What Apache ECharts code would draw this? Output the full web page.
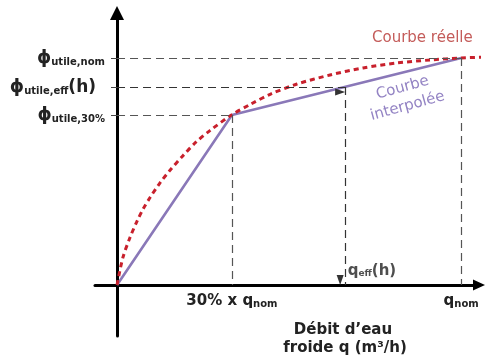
<!DOCTYPE html>
<html>
<head>
<meta charset="utf-8">
<script src="https://cdn.jsdelivr.net/npm/echarts@6/dist/echarts.min.js"></script>
<style>
html,body{margin:0;padding:0;background:#fff;}
#c{width:487px;height:359px;}
</style>
</head>
<body>
<div id="c"></div>
<script>
// ---- Data (flow q in % of q_nom, power φ in % of φ_nom) ----
const realQ   = [0, 1.7, 3.8, 5.8, 7.6, 9.6, 12.5, 15.4, 18.9, 23.0, 27.0, 33.4, 38.7, 44.5, 52.3, 61.9, 71.5, 81.4, 91.0, 100, 107.6];
const realPhi = [0, 12, 21, 28, 33.5, 38.5, 45, 50.5, 56.5, 63, 68, 75, 79.5, 84, 88.5, 92.5, 95.6, 97.8, 99.1, 100, 100.4];
const interpQ   = [0, 33.4, 100];
const interpPhi = [0, 74.9, 100];
const qTicks = [33.4, 100];
const qTickLabels = ['{m|30% x q}{s|nom}', '{m|q}{s|nom}'];
const phiTicks = [74.9, 87.2, 100];
const phiTickLabels = ['{p|ϕ}{s|utile,30%}', '{p|ϕ}{s|utile,eff}{h|(h)}', '{p|ϕ}{s|utile,nom}'];
const qEff = 66.3;
const phiEff = 87.2;
const qEffLabel = '{m|q}{s|eff}{m|(h)}';
const seriesNames = ['Courbe réelle', 'Courbe interpolée'];
const axisTitle = ['Débit d’eau', 'froide q (m³/h)'];

const FONT = 'DejaVu Sans';
const chart = echarts.init(document.getElementById('c'), null, {renderer: 'canvas'});

const dashStyle = {color: '#555', width: 1.2, type: [8, 5]};

function guidePairs(qArr, phiArr) {
  const out = [];
  for (let i = 0; i < qArr.length; i++) {
    out.push([{coord: [0, phiArr[i]]}, {coord: [qArr[i], phiArr[i]]}]);
    out.push([{coord: [qArr[i], phiArr[i]]}, {coord: [qArr[i], 0]}]);
  }
  return out;
}

chart.setOption({
  animation: false,
  grid: {left: 95, right: 8, top: 13, bottom: 23, containLabel: false, outerBoundsMode: 'none'},
  xAxis: {
    type: 'value', min: -6.4, max: 105.2, position: 'bottom', offset: -51,
    splitLine: {show: false},
    axisLine: {onZero: false, lineStyle: {color: '#000', width: 3}, symbol: ['none', 'triangle'], symbolSize: [11, 12]},
    axisTick: {show: false},
    axisLabel: {
      customValues: qTicks, margin: 9,
      formatter: v => qTickLabels[qTicks.indexOf(v)] || '',
      rich: {
        m: {fontFamily: FONT, fontWeight: 'bold', fontSize: 15, color: '#222', verticalAlign: 'bottom'},
        s: {fontFamily: FONT, fontWeight: 'bold', fontSize: 10, color: '#222', verticalAlign: 'bottom'}
      }
    }
  },
  yAxis: {
    type: 'value', min: -22.5, max: 119.8, position: 'left', offset: -22,
    splitLine: {show: false},
    axisLine: {onZero: false, lineStyle: {color: '#000', width: 3}, symbol: ['none', 'triangle'], symbolSize: [14, 14]},
    axisTick: {show: true, customValues: phiTicks, length: 6, lineStyle: {color: '#444', width: 1}},
    axisLabel: {
      customValues: phiTicks, margin: 12,
      formatter: v => phiTickLabels[phiTicks.indexOf(v)] || '',
      rich: {
        p: {fontFamily: FONT, fontWeight: 'bold', fontSize: 18, color: '#222', verticalAlign: 'bottom'},
        s: {fontFamily: FONT, fontWeight: 'bold', fontSize: 10, color: '#222', verticalAlign: 'bottom'},
        h: {fontFamily: FONT, fontWeight: 'bold', fontSize: 17, color: '#222', verticalAlign: 'bottom', padding: [0, 9, 0, 0]}
      }
    }
  },
  series: [
    {
      type: 'line', name: 'guides', data: [], silent: true,
      markLine: {
        silent: true, animation: false, symbol: 'none',
        label: {show: false},
        lineStyle: dashStyle,
        data: guidePairs([interpQ[1], interpQ[2]], [interpPhi[1], interpPhi[2]])
      }
    },
    {
      type: 'line', name: 'effGuides', data: [], silent: true,
      markLine: {
        silent: true, animation: false, symbol: ['none', 'triangle'], symbolSize: [7, 10], symbolOffset: [0, 5],
        label: {show: false},
        lineStyle: {color: '#333', width: 1.2, type: [8, 5]},
        data: [
          [{coord: [0, phiEff]}, {coord: [qEff, phiEff]}],
          [{coord: [qEff, phiEff]}, {coord: [qEff, 0]}]
        ]
      }
    },
    {
      type: 'line', name: seriesNames[1], data: interpQ.map((q, i) => [q, interpPhi[i]]),
      symbol: 'none', clip: false, z: 3,
      lineStyle: {color: '#8a78b8', width: 2.6}
    },
    {
      type: 'line', name: seriesNames[0], data: realQ.map((q, i) => [q, realPhi[i]]),
      symbol: 'none', smooth: 0.3, clip: false, z: 4,
      lineStyle: {color: '#c8202c', width: 3, type: [5, 4]}
    },
    {
      type: 'scatter', name: 'qEffLabel', data: [[qEff, 0]], symbolSize: 1, silent: true, z: 5,
      itemStyle: {color: 'rgba(0,0,0,0)'},
      label: {
        show: true, position: 'right', distance: 2, offset: [0, -14],
        formatter: () => qEffLabel,
        rich: {
          m: {fontFamily: FONT, fontWeight: 'bold', fontSize: 15, color: '#222', verticalAlign: 'bottom'},
          s: {fontFamily: FONT, fontWeight: 'bold', fontSize: 9, color: '#222', verticalAlign: 'bottom'}
        }
      }
    }
  ],
  graphic: [
    {type: 'text', left: 372, top: 31, silent: true,
     style: {text: seriesNames[0], font: '15px "DejaVu Sans"', fill: '#c45c5a'}},
    {type: 'text', x: 405, y: 97, rotation: 0.27, silent: true,
     style: {text: 'Courbe\ninterpolée', font: '15px "DejaVu Sans"', fill: '#9484c4', align: 'center', verticalAlign: 'middle', lineHeight: 19}},
    {type: 'text', x: 343, y: 330, silent: true,
     style: {text: axisTitle[0], font: 'bold 15px "DejaVu Sans"', fill: '#222', align: 'center', verticalAlign: 'middle'}},
    {type: 'text', x: 345, y: 348, silent: true,
     style: {text: axisTitle[1], font: 'bold 15px "DejaVu Sans"', fill: '#222', align: 'center', verticalAlign: 'middle'}}
  ]
});
</script>
</body>
</html>
